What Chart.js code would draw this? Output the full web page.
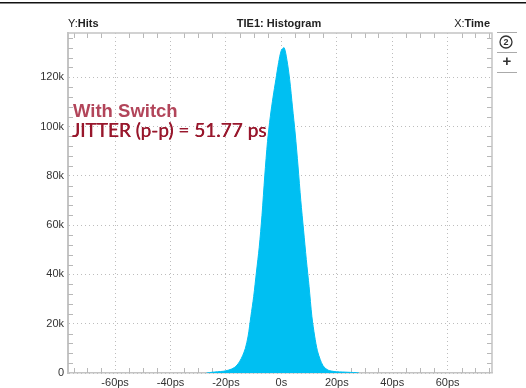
<!DOCTYPE html>
<html>
<head>
<meta charset="utf-8">
<script src="https://cdn.jsdelivr.net/npm/chart.js@4.4.1/dist/chart.umd.min.js"></script>
<style>
  html, body { margin: 0; padding: 0; background: #fff; }
  #wrap { width: 526px; height: 388px; position: relative; }
</style>
</head>
<body>
<div id="wrap"><canvas id="histChart"></canvas></div>
<script>
// histogram (time in ps, hits)
const timePs = [-27, -26, -25, -24, -23, -22, -21, -20, -19, -18, -17, -16, -15, -14, -13, -12, -11, -10, -9, -8, -7, -6, -5, -4, -3, -2, -1, 0,
  1, 2, 3, 4, 5, 6, 7, 8, 9, 10, 11, 12, 13, 14, 15, 16, 17, 18, 19, 20, 21, 22, 23, 24, 25, 26, 27, 28];
const hits = [0, 150, 300, 400, 500, 600, 700, 900, 1200, 1600, 2200, 3200, 4800, 7000, 10000, 15000, 23000, 31000, 41000, 51000, 64000, 80000, 94000, 104000, 112000, 119000, 126000, 131000,
  132000, 127000, 119000, 108000, 97000, 84000, 70000, 58000, 46000, 35000, 23000, 15000, 9000, 5500, 3000, 1800, 1100, 800, 600, 500, 450, 400, 350, 300, 250, 200, 150, 0];
const xTicks = [-60, -40, -20, 0, 20, 40, 60];
const yTicks = [0, 20000, 40000, 60000, 80000, 100000, 120000];

const FONT = '"Liberation Sans", Arial, sans-serif';

// frame, minor ticks, header texts and annotation
const decor = {
  id: 'decor',
  beforeDatasetsDraw(chart) {
    const { ctx, chartArea: a, scales: { x, y } } = chart;
    ctx.save();
    ctx.strokeStyle = '#b8b8b8';
    ctx.lineWidth = 1;
    ctx.beginPath();
    for (let v = -75; v <= 75; v += 5) {
      if (v % 20 === 0) continue;
      const px = Math.round(x.getPixelForValue(v)) + 0.5;
      ctx.moveTo(px, a.bottom); ctx.lineTo(px, a.bottom - 5);
      ctx.moveTo(px, a.top); ctx.lineTo(px, a.top + 5);
    }
    for (let v = 4000; v <= 136000; v += 4000) {
      if (v % 20000 === 0) continue;
      const py = Math.round(y.getPixelForValue(v)) + 0.5;
      ctx.moveTo(a.left, py); ctx.lineTo(a.left + 5, py);
      ctx.moveTo(a.right, py); ctx.lineTo(a.right - 5, py);
    }
    ctx.stroke();
    ctx.restore();
  },
  afterDraw(chart) {
    const { ctx, chartArea: a } = chart;
    ctx.save();
    // frame top/right
    ctx.strokeStyle = '#c4c4c4';
    ctx.lineWidth = 1.5;
    ctx.beginPath();
    ctx.moveTo(a.left, a.top); ctx.lineTo(a.right, a.top); ctx.lineTo(a.right, a.bottom);
    ctx.stroke();

    // black line at very top
    ctx.fillStyle = '#111';
    ctx.fillRect(0, 2, 526, 1.5);

    // header
    ctx.fillStyle = '#222';
    ctx.textBaseline = 'alphabetic';
    ctx.font = '11px ' + FONT;
    ctx.textAlign = 'left';
    ctx.fillText('Y:', 68, 27);
    let w = ctx.measureText('Y:').width;
    ctx.font = 'bold 11px ' + FONT;
    ctx.fillText('Hits', 68 + w, 27);
    ctx.textAlign = 'center';
    ctx.fillText('TIE1: Histogram', 279, 27);
    ctx.textAlign = 'right';
    ctx.fillText('Time', 490, 27);
    w = ctx.measureText('Time').width;
    ctx.font = '11px ' + FONT;
    ctx.fillText('X:', 490 - w, 27);

    // side buttons
    ctx.strokeStyle = '#aaa';
    ctx.lineWidth = 1;
    ctx.beginPath();
    [32.5, 52.5, 72.5].forEach(yy => { ctx.moveTo(497, yy); ctx.lineTo(517, yy); });
    ctx.stroke();
    ctx.strokeStyle = '#333';
    ctx.lineWidth = 1.3;
    ctx.beginPath(); ctx.arc(506, 42, 6, 0, Math.PI * 2); ctx.stroke();
    ctx.fillStyle = '#333';
    ctx.textAlign = 'center';
    ctx.textBaseline = 'middle';
    ctx.font = 'bold 9px ' + FONT;
    ctx.fillText('2', 506, 42.5);
    ctx.font = 'bold 15px ' + FONT;
    ctx.fillText('+', 507, 62);

    // annotation
    ctx.textAlign = 'left';
    ctx.textBaseline = 'alphabetic';
    ctx.fillStyle = '#b2455a';
    ctx.font = 'bold 18.5px ' + FONT;
    ctx.fillText('With Switch', 73, 117);
    ctx.fillStyle = '#98172c';
    ctx.font = '19px Lato, "Open Sans", sans-serif';
    ctx.fillText('JITTER (p-p) = 51.77 ps', 72, 137);
    ctx.fillText('JITTER (p-p) = 51.77 ps', 72.4, 137);
    ctx.restore();
  }
};

new Chart(document.getElementById('histChart'), {
  type: 'line',
  data: {
    labels: timePs,
    datasets: [{
      data: timePs.map((t, i) => ({ x: t, y: hits[i] })),
      borderColor: '#00bff2',
      backgroundColor: '#00bff2',
      borderWidth: 1,
      fill: 'origin',
      pointRadius: 0,
      tension: 0.3
    }]
  },
  options: {
    responsive: true,
    maintainAspectRatio: false,
    animation: false,
    layout: { padding: { top: 33, right: 34, left: 0, bottom: 0 } },
    plugins: { legend: { display: false }, tooltip: { enabled: false } },
    scales: {
      x: {
        type: 'linear',
        min: -77,
        max: 76,
        afterBuildTicks: s => { s.ticks = xTicks.map(v => ({ value: v })); },
        afterFit: s => { s.height = 15; },
        grid: { color: '#bdbdbd', drawTicks: false },
        border: { color: '#c4c4c4', width: 1.5, dash: [1, 3] },
        ticks: {
          padding: 3,
          color: '#333',
          font: { family: FONT, size: 11 },
          maxRotation: 0,
          callback: v => v === 0 ? '0s' : v + 'ps'
        }
      },
      y: {
        min: 0,
        max: 138000,
        afterBuildTicks: s => { s.ticks = yTicks.map(v => ({ value: v })); },
        afterFit: s => { s.width = 68; },
        grid: { color: '#bdbdbd', drawTicks: false },
        border: { color: '#c4c4c4', width: 2, dash: [1, 3] },
        ticks: {
          padding: 4,
          color: '#333',
          font: { family: FONT, size: 11 },
          callback: v => v === 0 ? '0' : (v / 1000) + 'k'
        }
      }
    }
  },
  plugins: [decor]
});
</script>
</body>
</html>
